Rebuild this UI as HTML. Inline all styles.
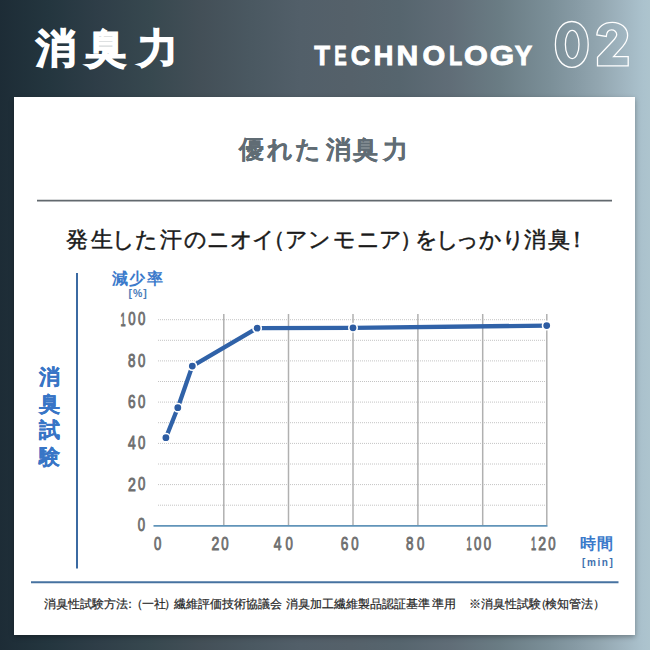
<!DOCTYPE html>
<html lang="ja">
<head>
<meta charset="utf-8">
<style>
*{margin:0;padding:0;box-sizing:border-box}
html,body{width:650px;height:650px;overflow:hidden}
body{position:relative;font-family:"Liberation Sans",sans-serif;
background:linear-gradient(90deg,#1d2c36 0px,#24363f 50px,#2f3e48 100px,#37484f 150px,#434f57 200px,#4a5861 250px,#525f69 300px,#55616a 350px,#56656e 400px,#606d77 450px,#6a7c84 500px,#7b8f98 550px,#869aa4 575px,#93a7b1 600px,#a0b5c0 623px,#abc2cd 643px,#adc4ce 650px);}
.abs{position:absolute;white-space:nowrap}
.title{top:24px;margin-left:1.5px;font-size:39.5px;line-height:48px;font-weight:bold;color:#fff;-webkit-text-stroke:1.4px #fff}
#panel{left:14px;top:97px;width:621px;height:538px;background:#fff;box-shadow:0 2px 5px rgba(0,0,0,.3)}
.h2{top:134px;font-size:25px;line-height:30px;font-weight:bold;color:#606c74;-webkit-text-stroke:0.1px #606c74}
.lead{top:226.5px;font-size:21.5px;line-height:26px;color:#1a1a1a;-webkit-text-stroke:0.5px #1a1a1a}
#vlabel{left:38px;top:364px;width:22px;font-size:20.5px;line-height:26.7px;font-weight:bold;color:#3875c6;white-space:normal;text-align:center;-webkit-text-stroke:0.3px #3875c6}
.foot{top:596px;font-size:11.7px;line-height:16px;color:#262626;-webkit-text-stroke:0.2px #262626}
svg{position:absolute;left:0;top:0}
</style>
</head>
<body>
<span class="abs title" style="left:34.44px">消</span><span class="abs title" style="left:84.30px">臭</span><span class="abs title" style="left:136.05px">力</span>
<svg width="650" height="97" viewBox="0 0 650 97">
<g font-family="Liberation Sans" font-weight="bold" font-size="28.3" fill="#fff" stroke="#fff" stroke-width="0.9">
<text transform="translate(314.36,64.95) scale(0.912,1)">T</text>
<text transform="translate(334.20,64.95) scale(0.661,1)">E</text>
<text transform="translate(350.85,64.67) scale(0.951,1)">C</text>
<text transform="translate(373.73,64.95) scale(0.962,1)">H</text>
<text transform="translate(396.44,64.95) scale(1.064,1)">N</text>
<text transform="translate(422.55,64.67) scale(1.032,1)">O</text>
<text transform="translate(449.00,64.95) scale(0.764,1)">L</text>
<text transform="translate(463.99,64.67) scale(1.083,1)">O</text>
<text transform="translate(489.86,64.67) scale(1.110,1)">G</text>
<text transform="translate(514.70,64.95) scale(0.926,1)">Y</text>
</g>
<g fill="none" stroke="#fff" stroke-width="1.3">
<path d="M571.80,21.50 C581.64,21.50 588.20,30.66 588.20,44.40 C588.20,58.14 581.64,67.30 571.80,67.30 C561.96,67.30 555.40,58.14 555.40,44.40 C555.40,30.66 561.96,21.50 571.80,21.50 Z"/>
<path d="M572.20,30.35 C576.14,30.35 579.00,36.27 579.00,44.45 C579.00,52.63 576.14,58.55 572.20,58.55 C568.26,58.55 565.40,52.63 565.40,44.45 C565.40,36.27 568.26,30.35 572.20,30.35 Z"/>
<path d="M596.8,35 C597.2,27 603.8,22.3 612.4,22.3 C621,22.3 627.6,27.8 627.6,35.6 C627.6,40 625.8,43 622.6,46.6 L613.6,56.6 L628.2,56.6 L628.2,65.9 L597.5,65.9 L597.5,57.2 L612.6,41.2 C614.8,38.8 616.7,36.8 616.7,34.4 C616.7,31.8 614.4,29.9 611.6,29.9 C608.6,29.9 606.6,32.3 606.3,36.4 Z"/>
</g>
</svg>
<div class="abs" id="panel"></div>
<span class="abs h2" style="left:238.65px">優</span><span class="abs h2" style="left:267.22px">れ</span><span class="abs h2" style="left:294.84px">た</span><span class="abs h2" style="left:325.93px">消</span><span class="abs h2" style="left:353.32px">臭</span><span class="abs h2" style="left:383.10px">力</span>
<span class="abs lead" style="left:66.04px">発</span><span class="abs lead" style="left:91.32px">生</span><span class="abs lead" style="left:111.77px">し</span><span class="abs lead" style="left:135.15px">た</span><span class="abs lead" style="left:160.41px">汗</span><span class="abs lead" style="left:184.21px">の</span><span class="abs lead" style="left:206.66px">ニ</span><span class="abs lead" style="left:230.17px">オ</span><span class="abs lead" style="left:251.91px">イ</span><span class="abs lead" style="left:263.19px">（</span><span class="abs lead" style="left:284.69px">ア</span><span class="abs lead" style="left:308.10px">ン</span><span class="abs lead" style="left:333.43px">モ</span><span class="abs lead" style="left:356.66px">ニ</span><span class="abs lead" style="left:379.29px">ア</span><span class="abs lead" style="left:399.72px">）</span><span class="abs lead" style="left:414.54px">を</span><span class="abs lead" style="left:435.67px">し</span><span class="abs lead" style="left:456.47px">っ</span><span class="abs lead" style="left:478.95px">か</span><span class="abs lead" style="left:501.77px">り</span><span class="abs lead" style="left:523.89px">消</span><span class="abs lead" style="left:547.90px">臭</span><span class="abs lead" style="left:566.11px">！</span>
<div class="abs" id="vlabel">消臭試験</div>
<svg width="650" height="650" viewBox="0 0 650 650">
<line x1="37" y1="200.6" x2="612" y2="200.6" stroke="#62696e" stroke-width="1.7"/>
<line x1="77" y1="273" x2="77" y2="568.5" stroke="#3b6aa2" stroke-width="2"/>
<line x1="31" y1="582.2" x2="618.5" y2="582.2" stroke="#4672a0" stroke-width="1.9"/>
<g stroke="#c4c4c4" stroke-width="1" stroke-dasharray="1 1">
<line x1="158" y1="505.2" x2="547" y2="505.2"/>
<line x1="158" y1="484.6" x2="547" y2="484.6"/>
<line x1="158" y1="464.0" x2="547" y2="464.0"/>
<line x1="158" y1="443.4" x2="547" y2="443.4"/>
<line x1="158" y1="422.7" x2="547" y2="422.7"/>
<line x1="158" y1="402.1" x2="547" y2="402.1"/>
<line x1="158" y1="381.5" x2="547" y2="381.5"/>
<line x1="158" y1="360.9" x2="547" y2="360.9"/>
<line x1="158" y1="340.3" x2="547" y2="340.3"/>
<line x1="158" y1="319.7" x2="547" y2="319.7"/>
</g>
<g stroke="#b0b0b0" stroke-width="1.5">
<line x1="223.8" y1="314" x2="223.8" y2="525"/>
<line x1="288.5" y1="314" x2="288.5" y2="525"/>
<line x1="353.0" y1="314" x2="353.0" y2="525"/>
<line x1="417.9" y1="314" x2="417.9" y2="525"/>
<line x1="482.7" y1="314" x2="482.7" y2="525"/>
<line x1="546.8" y1="314" x2="546.8" y2="525"/>
</g>
<line x1="153.5" y1="525.8" x2="547.5" y2="525.8" stroke="#6194b9" stroke-width="1.7"/>
<g font-family="Liberation Sans" font-size="18.1" fill="#6e6e6e" stroke="#6e6e6e" stroke-width="0.9">
<text transform="translate(120.39,325.60) scale(0.513,1)">1</text><text transform="translate(128.19,325.42) scale(0.728,1)">0</text><text transform="translate(138.09,325.42) scale(0.728,1)">0</text>
<text transform="translate(128.02,366.62) scale(0.742,1)">8</text><text transform="translate(138.09,366.62) scale(0.728,1)">0</text>
<text transform="translate(127.91,407.72) scale(0.754,1)">6</text><text transform="translate(138.09,407.72) scale(0.728,1)">0</text>
<text transform="translate(127.98,449.30) scale(0.767,1)">4</text><text transform="translate(138.09,449.12) scale(0.728,1)">0</text>
<text transform="translate(127.89,490.50) scale(0.776,1)">2</text><text transform="translate(138.09,490.32) scale(0.728,1)">0</text>
<text transform="translate(137.69,531.02) scale(0.728,1)">0</text>
<text transform="translate(153.99,550.02) scale(0.728,1)">0</text>
<text transform="translate(211.39,550.20) scale(0.776,1)">2</text><text transform="translate(221.29,550.02) scale(0.728,1)">0</text>
<text transform="translate(273.78,550.20) scale(0.767,1)">4</text><text transform="translate(285.59,550.02) scale(0.728,1)">0</text>
<text transform="translate(340.81,550.02) scale(0.754,1)">6</text><text transform="translate(351.19,550.02) scale(0.728,1)">0</text>
<text transform="translate(406.02,550.02) scale(0.742,1)">8</text><text transform="translate(416.89,550.02) scale(0.728,1)">0</text>
<text transform="translate(466.39,550.20) scale(0.513,1)">1</text><text transform="translate(473.99,550.02) scale(0.728,1)">0</text><text transform="translate(483.69,550.02) scale(0.728,1)">0</text>
<text transform="translate(530.99,550.20) scale(0.513,1)">1</text><text transform="translate(538.34,550.20) scale(0.776,1)">2</text><text transform="translate(548.29,550.02) scale(0.728,1)">0</text>
</g>
<polyline points="165.9,437.7 177.8,407.7 192.3,366.1 257.1,328.2 353.0,327.8 546.7,325.6" fill="none" stroke="#3062a8" stroke-width="4.3" stroke-linejoin="round"/>
<g fill="#2d5ca2" stroke="#fff" stroke-width="1.6">
<circle cx="165.9" cy="437.7" r="4.2"/>
<circle cx="177.8" cy="407.7" r="4.2"/>
<circle cx="192.3" cy="366.1" r="4.2"/>
<circle cx="257.1" cy="328.2" r="4.2"/>
<circle cx="353.0" cy="327.8" r="4.2"/>
<circle cx="546.7" cy="325.6" r="4.2"/>
</g>
<text x="111.5" y="284" font-size="15.5" font-weight="bold" fill="#3b7acb" letter-spacing="1.8">減少率</text>
<text x="128.5" y="297.3" font-size="10.5" font-weight="bold" fill="#4a7cba" letter-spacing="1">[%]</text>
<text x="580" y="549" font-size="16" font-weight="bold" fill="#3b7acb" letter-spacing="1">時間</text>
<text x="582" y="565.5" font-size="10" font-weight="bold" fill="#3e6fae" letter-spacing="1.6">[min]</text>
</svg>
<div class="abs foot" style="left:44px">消臭性試験方法</div><div class="abs foot" style="left:124px">：</div><div class="abs foot" style="left:131px">（</div><div class="abs foot" style="left:142px">一社</div><div class="abs foot" style="left:164px">）</div><div class="abs foot" style="left:174px">繊維評価技術協議会</div><div class="abs foot" style="left:286px">消臭加工繊維製品認証基準</div><div class="abs foot" style="left:432px">準用</div><div class="abs foot" style="left:469px">※消臭性試験</div><div class="abs foot" style="left:535px">（</div><div class="abs foot" style="left:545px">検知管法</div><div class="abs foot" style="left:593px">）</div>
</body>
</html>
